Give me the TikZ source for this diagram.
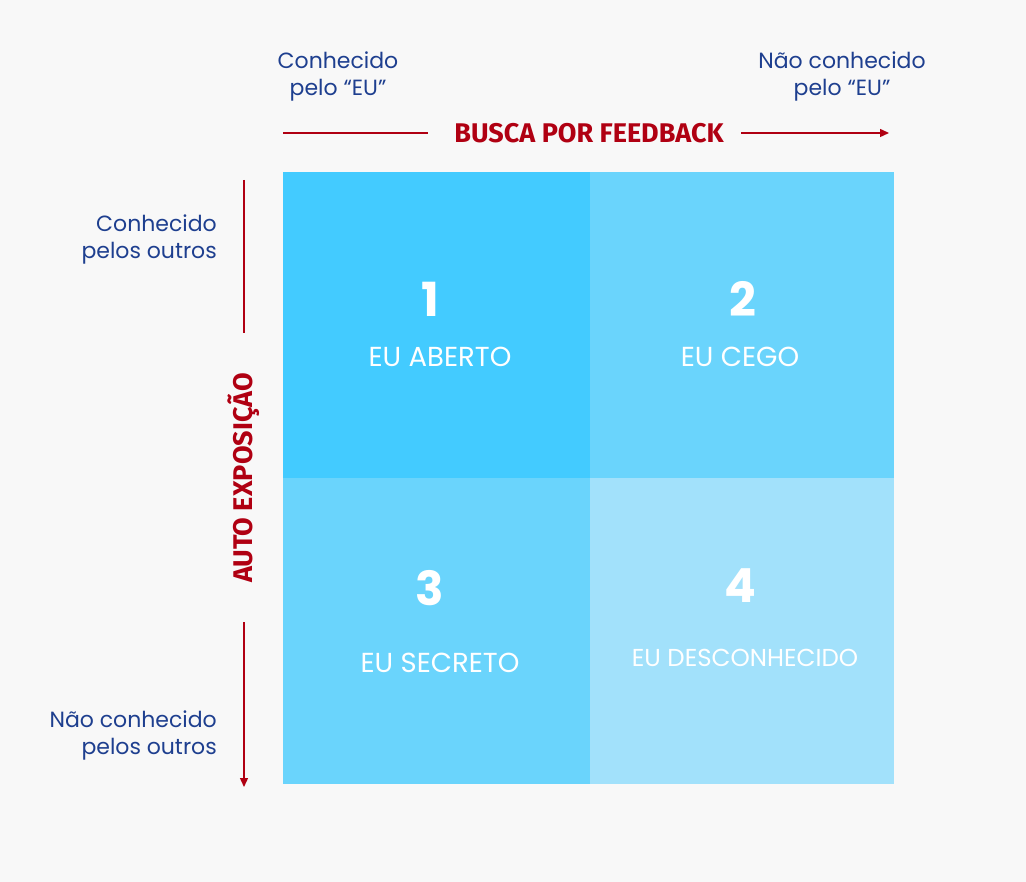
\documentclass[tikz,border=0pt]{standalone}
\usepackage{fontspec}
\setmainfont{Poppins}
\newfontfamily\redfont{Fira Sans}
\usetikzlibrary{arrows.meta}
\definecolor{bg}{HTML}{F8F8F8}
\definecolor{qone}{HTML}{43CBFF}
\definecolor{qtwo}{HTML}{6AD4FC}
\definecolor{qfour}{HTML}{A2E1FB}
\definecolor{navy}{HTML}{1E3F8F}
\definecolor{darkred}{HTML}{B00012}
\tikzset{
  quad/.style={fill=#1, draw=none},
  num/.style={text=white, font=\fontsize{47}{50}\selectfont\bfseries, anchor=center},
  qlabel/.style={text=white, font=\fontsize{27.5}{30}\selectfont, anchor=center},
  side/.style={text=navy, font=\fontsize{22}{27}\selectfont, align=center, inner sep=0pt},
  axis/.style={draw=darkred, line width=1.4pt},
  axistitle/.style={text=darkred, font=\redfont\fontsize{27}{30}\selectfont\bfseries, inner sep=0pt},
}
\begin{document}
\begin{tikzpicture}[x=1pt,y=-1pt]
\fill[bg] (0,0) rectangle (1026,882);
\useasboundingbox (0,0) rectangle (1026,882);
% quadrants
\path[quad=qone] (283,172) rectangle (590,478);
\path[quad=qtwo] (590,172) rectangle (894,478);
\path[quad=qtwo] (283,478) rectangle (590,784);
\path[quad=qfour] (590,478) rectangle (894,784);
% numbers and labels
\node[num] (n1) at (430,299) {1};
\node[qlabel] (l1) at (440,357) {EU ABERTO};
\node[num] (n2) at (743,299) {2};
\node[qlabel] (l2) at (740,357) {EU CEGO};
\node[num] (n3) at (430,588) {3};
\node[qlabel] (l3) at (440,663) {EU SECRETO};
\node[num] (n4) at (740,586) {4};
\node[qlabel, font=\fontsize{24.5}{28}\selectfont] (l4) at (745,658) {EU DESCONHECIDO};
% top labels
\node[side] (tl) at (338,76) {Conhecido\\pelo “EU”};
\node[side] (tr) at (842,76) {Não conhecido\\pelo “EU”};
% left labels
\node[side, align=right, anchor=east] (ll1) at (217,239) {Conhecido\\pelos outros};
\node[side, align=right, anchor=east] (ll2) at (217,735) {Não conhecido\\pelos outros};
% horizontal axis
\coordinate (h0) at (283,133);
\coordinate (h1) at (428,133);
\coordinate (h2) at (741,133);
\coordinate (h3) at (889,133);
\node[axistitle] (ht) at (589,133) {BUSCA POR FEEDBACK};
\draw[axis] (h0) -- (h1);
\draw[axis, -{Triangle[length=9pt,width=8pt]}] (h2) -- (h3);
% vertical axis
\coordinate (v0) at (244,180);
\coordinate (v1) at (244,333);
\coordinate (v2) at (244,622);
\coordinate (v3) at (244,787);
\node[axistitle, rotate=90] (vt) at (244,478) {AUTO EXPOSIÇÃO};
\draw[axis] (v0) -- (v1);
\draw[axis, -{Triangle[length=9pt,width=8pt]}] (v2) -- (v3);
\end{tikzpicture}
\end{document}
